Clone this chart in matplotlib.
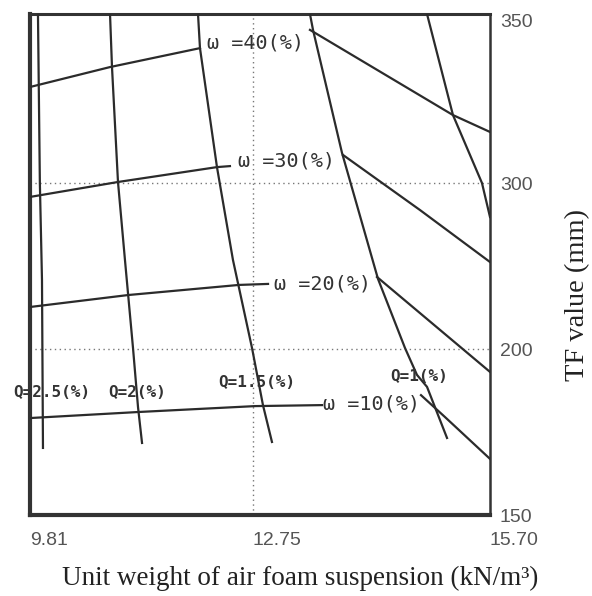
import numpy as np
import matplotlib
matplotlib.use("Agg")
import matplotlib.pyplot as plt

# ---------------- data (unit weight kN/m3, TF value mm) ----------------
x_ticks = [9.81, 12.75, 15.70]
x_tick_labels = ["9.81", "12.75", "15.70"]
y_ticks = [150, 200, 300, 350]
y_tick_labels = ["150", "200", "300", "350"]

# Q (foam ratio) lines, nearly vertical
q25_x = [9.915, 9.940, 9.968, 9.981]
q25_y = [350.0, 300.0, 241.6, 170.2]
q20_x = [10.865, 10.891, 10.970, 11.062, 11.168, 11.234, 11.287]
q20_y = [350.0, 334.3, 300.3, 253.6, 200.6, 182.5, 171.7]
q15_x = [12.025, 12.051, 12.275, 12.486, 12.737, 12.874, 12.986]
q15_y = [350.0, 339.9, 304.7, 253.6, 200.6, 183.1, 172.0]
q10_x = [13.459, 13.497, 13.858, 14.306, 14.642, 14.791, 14.916, 15.165]
q10_y = [350.0, 345.3, 308.9, 242.2, 200.6, 192.2, 188.6, 173.2]
q05_x = [14.916, 15.239, 15.600, 15.700]
q05_y = [350.0, 320.1, 300.0, 279.5]

# omega (water content) lines: left part and right part (label sits between)
w40_lx = [9.81, 10.865, 12.051]
w40_ly = [328.4, 334.3, 339.9]
w40_rx = [13.459, 15.239, 15.70]
w40_ry = [345.3, 320.1, 315.1]
w30_lx = [9.81, 10.970, 12.275, 12.446]
w30_ly = [291.6, 300.3, 304.7, 305.0]
w30_rx = [13.870, 14.829, 15.70]
w30_ry = [308.3, 283.7, 252.4]
w20_lx = [9.81, 11.102, 12.565, 12.937]
w20_ly = [225.3, 232.5, 238.6, 239.2]
w20_rx = [14.293, 15.70]
w20_ry = [243.4, 193.1]
w10_lx = [9.81, 11.221, 12.775, 13.609]
w10_ly = [179.2, 181.0, 182.8, 183.1]
w10_rx = [14.841, 15.140, 15.70]
w10_ry = [186.1, 179.5, 166.9]

w_labels = ["ω =40(%)", "ω =30(%)", "ω =20(%)", "ω =10(%)"]
w_label_x = [12.775, 13.173, 13.621, 14.219]
w_label_y = [341.4, 306.5, 239.2, 183.4]

q_labels = ["Q=2.5(%)", "Q=2(%)", "Q=1.5(%)", "Q=1(%)"]
q_label_x = [10.100, 11.221, 12.800, 14.816]
q_label_y = [187.0, 187.0, 189.8, 191.6]

x_label = "Unit weight of air foam suspension (kN/m³)"
y_label = "TF value (mm)"


# ---------------- piecewise-linear axis scales ----------------
def pw(xp, fp):
    xp = np.asarray(xp, float)
    fp = np.asarray(fp, float)
    s0 = (fp[1] - fp[0]) / (xp[1] - xp[0])
    s1 = (fp[-1] - fp[-2]) / (xp[-1] - xp[-2])

    def f(v):
        v = np.asarray(v, float)
        out = np.interp(v, xp, fp)
        out = np.where(v < xp[0], fp[0] + (v - xp[0]) * s0, out)
        out = np.where(v > xp[-1], fp[-1] + (v - xp[-1]) * s1, out)
        return out
    return f


X_POS = [0, 223, 460]
Y_POS = [0, 166, 332, 501]

fig = plt.figure(figsize=(5.92, 5.96), dpi=100)
ax = fig.add_axes([30 / 592, 1 - 515 / 596, 460 / 592, 501 / 596])
ax.set_xscale("function", functions=(pw(x_ticks, X_POS), pw(X_POS, x_ticks)))
ax.set_yscale("function", functions=(pw(y_ticks, Y_POS), pw(Y_POS, y_ticks)))
ax.set_xlim(x_ticks[0], x_ticks[-1])
ax.set_ylim(y_ticks[0], y_ticks[-1])

line_c = "#2b2b2b"
lw = 1.6

# grid (dotted)
for yv in y_ticks[1:-1]:
    ax.axhline(yv, color="#777777", lw=1.0, ls=(0, (1, 2.5)), zorder=1)
for xv in x_ticks[1:-1]:
    ax.axvline(xv, color="#777777", lw=1.0, ls=(0, (1, 2.5)), zorder=1)

# Q lines
for xs, ys in [(q25_x, q25_y), (q20_x, q20_y), (q15_x, q15_y),
               (q10_x, q10_y), (q05_x, q05_y)]:
    ax.plot(xs, ys, color=line_c, lw=lw, zorder=3)

# omega lines
for xs, ys in [(w40_lx, w40_ly), (w40_rx, w40_ry), (w30_lx, w30_ly),
               (w30_rx, w30_ry), (w20_lx, w20_ly), (w20_rx, w20_ry),
               (w10_lx, w10_ly), (w10_rx, w10_ry)]:
    ax.plot(xs, ys, color=line_c, lw=lw, zorder=3)

for t, xv, yv in zip(w_labels, w_label_x, w_label_y):
    ax.text(xv, yv, t, ha="center", va="center", fontsize=14.5,
            family="DejaVu Sans Mono", color="#333333", zorder=4)
for t, xv, yv in zip(q_labels, q_label_x, q_label_y):
    ax.text(xv, yv, t, ha="center", va="center", fontsize=11.5,
            family="DejaVu Sans Mono", fontweight="bold", color="#333333",
            zorder=4)

# ticks
ax.set_xticks(x_ticks)
ax.set_xticklabels(x_tick_labels, fontsize=14, family="Liberation Sans",
                   color="#555555")
for lbl in ax.get_xticklabels():
    lbl.set_ha("left")
ax.yaxis.tick_right()
ax.set_yticks(y_ticks)
ax.set_yticklabels(y_tick_labels, fontsize=14, family="Liberation Sans",
                   color="#555555")
ax.get_yticklabels()[-1].set_va("top")
ax.tick_params(axis="x", length=0, pad=12)
ax.tick_params(axis="y", length=0, pad=7)
ax.minorticks_off()

# spines
for side, w in [("left", 3.0), ("bottom", 3.0), ("top", 2.2), ("right", 1.8)]:
    ax.spines[side].set_linewidth(w)
    ax.spines[side].set_color("#333333")

fig.text(300 / 592, 1 - 578 / 596, x_label, ha="center", va="center",
         fontsize=19.5, family="Liberation Serif", color="#222222")
fig.text(578 / 592, 1 - 295 / 596, y_label, ha="center", va="center",
         rotation=90, fontsize=20.5, family="Liberation Serif", color="#222222")

fig.savefig("out.png", dpi=100)
